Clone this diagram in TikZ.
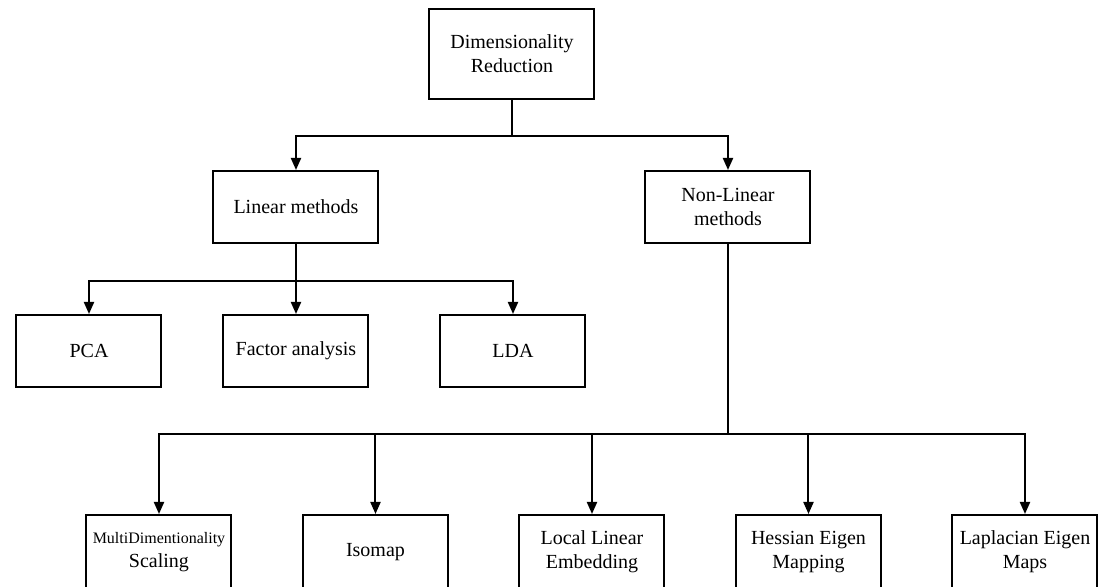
\documentclass[tikz,border=0pt]{standalone}
\usepackage{fontspec}
\setmainfont{Liberation Serif}
\usetikzlibrary{arrows.meta}

\begin{document}
\begin{tikzpicture}[x=1pt,y=1pt,
 box/.style={rectangle,draw,line width=1pt,minimum width=72.5pt,minimum height=36pt,align=center,inner sep=2pt},
 wide box/.style={box,minimum width=82.5pt},
 arr/.style={line width=1pt,-{Triangle[length=6pt,width=5pt]}}]

  \useasboundingbox (-256,27) rectangle (294,-266.5);

  \node[wide box,minimum height=45pt] (root) {Dimensionality\\Reduction};
  \node[wide box] (lin) [node distance=76.5pt,below of=root,xshift=-108pt] {Linear methods};
  \node[wide box] (nonlin) [node distance=76.5pt,below of=root,xshift=108pt] {Non-Linear\\methods};

  \node[box] (fa) [node distance=72pt,below of=lin] {Factor analysis};
  \node[box] (pca) [node distance=103.5pt,left of=fa] {PCA};
  \node[box] (lda) [node distance=108.5pt,right of=fa] {LDA};

  \node[box,minimum height=37pt] (lle) [node distance=172.5pt,below of=nonlin,xshift=-68pt] {Local Linear\\Embedding};
  \node[box,minimum height=37pt] (iso) [node distance=108.25pt,left of=lle] {Isomap};
  \node[box,minimum height=37pt] (mds) [node distance=108.25pt,left of=iso] {{\footnotesize MultiDimentionality}\\Scaling};
  \node[box,minimum height=37pt] (hes) [node distance=108.25pt,right of=lle] {Hessian Eigen\\Mapping};
  \node[box,minimum height=37pt] (lap) [node distance=108.25pt,right of=hes] {Laplacian Eigen\\Maps};

  \foreach \t in {lin,nonlin} {
   \draw[arr] (root.south) -- ++(0,-18) -| (\t);}
  \foreach \t in {pca,fa,lda} {
   \draw[arr] (lin.south) -- ++(0,-18.5) -| (\t);}
  \foreach \t in {mds,iso,lle,hes,lap} {
   \draw[arr] (nonlin.south) -- ++(0,-95) -| (\t);}
\end{tikzpicture}
\end{document}
